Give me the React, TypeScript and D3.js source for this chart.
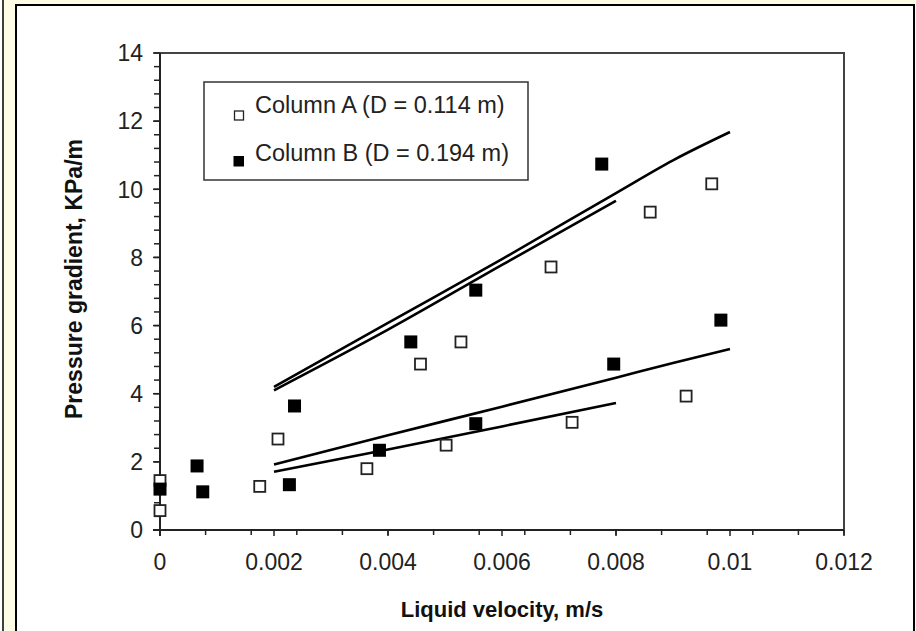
import React from "react";
import * as d3 from "d3";

// Column A (D = 0.114 m): liquid velocity (m/s) and pressure gradient (kPa/m)
const colAVelocity = [0, 0, 0.00175, 0.00207, 0.00363, 0.00457, 0.00502, 0.00528, 0.00686, 0.00723, 0.0086, 0.00923, 0.00968];
const colAGradient = [0.57, 1.45, 1.28, 2.67, 1.8, 4.87, 2.49, 5.52, 7.72, 3.16, 9.33, 3.93, 10.16];

// Column B (D = 0.194 m)
const colBVelocity = [0, 0.00065, 0.00075, 0.00227, 0.00236, 0.00385, 0.0044, 0.00554, 0.00554, 0.00775, 0.00796, 0.00984];
const colBGradient = [1.2, 1.88, 1.12, 1.33, 3.64, 2.34, 5.52, 3.12, 7.04, 10.74, 4.87, 6.16];

// Model curves
const curveVelocityLong = [0.002, 0.004, 0.006, 0.008, 0.009, 0.01];
const curveUpperLong = [4.2, 6.08, 7.95, 9.89, 10.85, 11.68];
const curveVelocityShort = [0.002, 0.004, 0.006, 0.008];
const curveUpperShort = [4.1, 5.88, 7.78, 9.66];
const curveLowerLong = [1.92, 2.78, 3.62, 4.47, 4.9, 5.31];
const curveLowerShort = [1.71, 2.36, 3.04, 3.73];

const xTickValues = [0, 0.002, 0.004, 0.006, 0.008, 0.01, 0.012];
const xTickLabels = ["0", "0.002", "0.004", "0.006", "0.008", "0.01", "0.012"];
const yTickValues = [0, 2, 4, 6, 8, 10, 12, 14];

const legendLabels = ["Column A (D = 0.114 m)", "Column B (D = 0.194 m)"];

const W = 916;
const H = 631;
const plot = { left: 160, right: 844, top: 53, bottom: 530 };
const FONT = "Arial, 'Liberation Sans', Helvetica, sans-serif";

export default function App() {
  const x = d3.scaleLinear().domain([0, 0.012]).range([plot.left, plot.right]);
  const y = d3.scaleLinear().domain([0, 14]).range([plot.bottom, plot.top]);

  const xMinor = d3.range(0, 0.012 + 1e-9, 0.0008);
  const yMinor = d3.range(0, 14 + 1e-9, 0.4);

  const line = d3
    .line<[number, number]>()
    .x((d) => x(d[0]))
    .y((d) => y(d[1]))
    .curve(d3.curveMonotoneX);

  const curves: [number, number][][] = [
    curveVelocityLong.map((v, i) => [v, curveUpperLong[i]] as [number, number]),
    curveVelocityShort.map((v, i) => [v, curveUpperShort[i]] as [number, number]),
    curveVelocityLong.map((v, i) => [v, curveLowerLong[i]] as [number, number]),
    curveVelocityShort.map((v, i) => [v, curveLowerShort[i]] as [number, number]),
  ];

  return (
    <svg
      width={W}
      height={H}
      style={{ position: "fixed", left: 0, top: 0 }}
      fontFamily={FONT}
    >
      {/* page background and frame */}
      <rect x={0} y={0} width={W} height={H} fill="#ffffff" />
      <rect x={3} y={0} width={W - 3} height={H} fill="#fffce6" />
      <line x1={3} y1={0} x2={3} y2={H} stroke="#000" strokeWidth={1.5} />
      <rect x={16} y={5} width={898} height={H + 10} fill="#ffffff" stroke="#000" strokeWidth={2} />

      {/* plot border (top/right) */}
      <path
        d={`M${plot.left},${plot.top}H${plot.right}V${plot.bottom}`}
        fill="none"
        stroke="#444"
        strokeWidth={2}
      />

      {/* x axis */}
      <line x1={plot.left - 7} y1={plot.bottom} x2={plot.right} y2={plot.bottom} stroke="#222" strokeWidth={2} />
      {xMinor.map((v, i) => (
        <line key={"xm" + i} x1={x(v)} x2={x(v)} y1={plot.bottom} y2={plot.bottom + 5} stroke="#222" strokeWidth={1.5} />
      ))}
      {xTickValues.map((v, i) => (
        <g key={"xt" + i}>
          <line x1={x(v)} x2={x(v)} y1={plot.bottom} y2={plot.bottom + 6} stroke="#222" strokeWidth={1.5} />
          <text x={x(v)} y={570} textAnchor="middle" fontSize={23} fill="#222">
            {xTickLabels[i]}
          </text>
        </g>
      ))}

      {/* y axis */}
      <line x1={plot.left} y1={plot.top} x2={plot.left} y2={plot.bottom + 6} stroke="#222" strokeWidth={2} />
      {yMinor.map((v, i) => (
        <line key={"ym" + i} x1={plot.left - 6} x2={plot.left} y1={y(v)} y2={y(v)} stroke="#222" strokeWidth={1.5} />
      ))}
      {yTickValues.map((v) => (
        <g key={"yt" + v}>
          <line x1={plot.left - 7} x2={plot.left} y1={y(v)} y2={y(v)} stroke="#222" strokeWidth={1.5} />
          <text x={143} y={y(v)} dy="0.36em" textAnchor="end" fontSize={23} fill="#222">
            {v}
          </text>
        </g>
      ))}

      {/* axis titles */}
      <text x={502} y={617} textAnchor="middle" fontSize={22} fontWeight="bold" fill="#111">
        Liquid velocity, m/s
      </text>
      <text
        transform={`translate(82,279) rotate(-90)`}
        textAnchor="middle"
        fontSize={23}
        fontWeight="bold"
        fill="#111"
      >
        Pressure gradient, KPa/m
      </text>

      {/* model curves */}
      {curves.map((c, i) => (
        <path key={"c" + i} d={line(c) || ""} fill="none" stroke="#000" strokeWidth={2.6} />
      ))}

      {/* Column A: open squares */}
      {colAVelocity.map((v, i) => (
        <rect
          key={"a" + i}
          x={x(v) - 5.5}
          y={y(colAGradient[i]) - 5.5}
          width={11}
          height={11}
          fill="#fff"
          stroke="#222"
          strokeWidth={1.8}
        />
      ))}
      {/* Column B: filled squares */}
      {colBVelocity.map((v, i) => (
        <rect
          key={"b" + i}
          x={x(v) - 6.5}
          y={y(colBGradient[i]) - 6.5}
          width={13}
          height={13}
          fill="#000"
        />
      ))}

      {/* legend */}
      <rect x={204} y={82} width={324} height={98} fill="#fff" stroke="#333" strokeWidth={1.5} />
      <rect x={234.5} y={111} width={9} height={9} fill="#fff" stroke="#222" strokeWidth={1.3} />
      <text x={255} y={113} fontSize={23.5} fill="#222">
        {legendLabels[0]}
      </text>
      <rect x={233.5} y={156} width={10.5} height={10.5} fill="#000" />
      <text x={255} y={160.5} fontSize={23.5} fill="#222">
        {legendLabels[1]}
      </text>
    </svg>
  );
}
